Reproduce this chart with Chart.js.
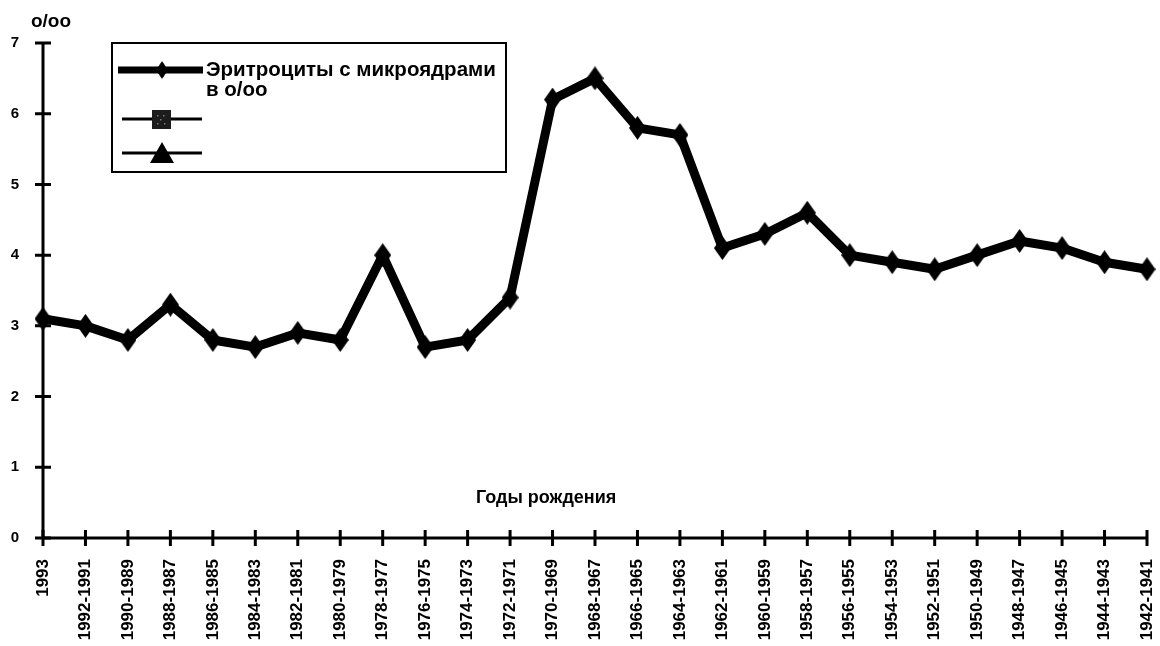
<!DOCTYPE html>
<html>
<head>
<meta charset="utf-8">
<script src="https://cdn.jsdelivr.net/npm/chart.js@4.4.0/dist/chart.umd.min.js"></script>
<style>
  html, body { margin: 0; padding: 0; background: #fff; }
  canvas { display: block; }
</style>
</head>
<body>
<canvas id="myChart" width="1160" height="646"></canvas>
<script>
// birth-year groups and micronucleus counts (per mille)
const years = [
    '1993', '1992-1991', '1990-1989', '1988-1987', '1986-1985', '1984-1983',
    '1982-1981', '1980-1979', '1978-1977', '1976-1975', '1974-1973', '1972-1971',
    '1970-1969', '1968-1967', '1966-1965', '1964-1963', '1962-1961', '1960-1959',
    '1958-1957', '1956-1955', '1954-1953', '1952-1951', '1950-1949', '1948-1947',
    '1946-1945', '1944-1943', '1942-1941'
];
const micronuclei = [
    3.1, 3.0, 2.8, 3.3, 2.8, 2.7, 2.9, 2.8, 4.0, 2.7, 2.8, 3.4,
    6.2, 6.5, 5.8, 5.7, 4.1, 4.3, 4.6, 4.0, 3.9, 3.8, 4.0, 4.2,
    4.1, 3.9, 3.8
];
const seriesLabels = ['Эритроциты с микроядрами в о/оо', '', ''];
const yTicks = [0, 1, 2, 3, 4, 5, 6, 7];
const unitLabel = 'o/oo';
const xTitle = 'Годы рождения';

const FONT = '"Liberation Sans", Arial, sans-serif';

// tall diamond marker used for the main series
const makeDiamond = (w, h) => {
    const c = document.createElement('canvas');
    c.width = w;
    c.height = h;
    const g = c.getContext('2d');
    g.fillStyle = '#000';
    g.beginPath();
    g.moveTo(w / 2, 0);
    g.lineTo(w, h / 2);
    g.lineTo(w / 2, h);
    g.lineTo(0, h / 2);
    g.closePath();
    g.fill();
    return c;
};
const diamond = makeDiamond(17, 24);

// axes with cross-shaped tick marks
const axesPlugin = {
    id: 'crossAxes',
    beforeDatasetsDraw(chart) {
        const { ctx, scales: { x, y } } = chart;
        const x0 = x.left;
        const yTop = y.getPixelForValue(7);
        const yBot = y.getPixelForValue(0);
        ctx.save();
        ctx.strokeStyle = '#000';
        ctx.lineWidth = 3;
        ctx.beginPath();
        ctx.moveTo(x0, yTop);
        ctx.lineTo(x0, yBot);
        ctx.moveTo(x0, yBot);
        ctx.lineTo(x.getPixelForValue(years.length - 1), yBot);
        ctx.stroke();
        ctx.beginPath();
        yTicks.forEach(v => {
            const py = y.getPixelForValue(v);
            ctx.moveTo(x0 - 8, py);
            ctx.lineTo(x0 + 8, py);
        });
        years.forEach((_, i) => {
            const px = x.getPixelForValue(i);
            ctx.moveTo(px, yBot - 8);
            ctx.lineTo(px, yBot + 8);
        });
        ctx.stroke();
        ctx.restore();
    },
    afterDraw(chart) {
        const { ctx, scales: { x } } = chart;
        ctx.save();
        ctx.fillStyle = '#000';
        ctx.font = 'bold 19px ' + FONT;
        ctx.textAlign = 'center';
        ctx.textBaseline = 'alphabetic';
        ctx.fillText(unitLabel, x.left + 8, 27);
        ctx.font = 'bold 18px ' + FONT;
        ctx.textAlign = 'left';
        ctx.fillText(xTitle, 476, 503);
        ctx.restore();
    }
};

// boxed legend in the upper left
const legendBox = {
    id: 'legendBox',
    afterDraw(chart) {
        const ctx = chart.ctx;
        const bx = 112, by = 43, bw = 394, bh = 129;
        ctx.save();
        ctx.fillStyle = '#fff';
        ctx.fillRect(bx, by, bw, bh);
        ctx.strokeStyle = '#000';
        ctx.lineWidth = 2;
        ctx.strokeRect(bx, by, bw, bh);

        // entry 1: thick line with diamond
        ctx.lineWidth = 7;
        ctx.beginPath();
        ctx.moveTo(118, 70);
        ctx.lineTo(203, 70);
        ctx.stroke();
        ctx.drawImage(diamond, 162 - 6, 70 - 9, 12, 18);

        ctx.fillStyle = '#000';
        ctx.font = 'bold 20.5px ' + FONT;
        ctx.textBaseline = 'alphabetic';
        const words = chart.data.datasets[0].label.split(' ');
        const lines = [];
        let cur = '';
        words.forEach(w => {
            const test = cur ? cur + ' ' + w : w;
            if (ctx.measureText(test).width > 296 && cur) {
                lines.push(cur);
                cur = w;
            } else {
                cur = test;
            }
        });
        lines.push(cur);
        lines.forEach((t, i) => ctx.fillText(t, 206, 76 + i * 20));

        // entry 2: thin line with square
        ctx.lineWidth = 3;
        ctx.beginPath();
        ctx.moveTo(122, 119);
        ctx.lineTo(202, 119);
        ctx.moveTo(122, 153);
        ctx.lineTo(202, 153);
        ctx.stroke();
        ctx.fillStyle = '#1c1c1c';
        ctx.fillRect(152, 110, 19, 19);
        ctx.fillStyle = '#777';
        [[157, 115], [163, 115], [160, 119], [157, 123], [164, 123]].forEach(([px, py]) => ctx.fillRect(px, py, 1.5, 1.5));

        // entry 3: thin line with triangle
        ctx.fillStyle = '#000';
        ctx.beginPath();
        ctx.moveTo(162, 142);
        ctx.lineTo(174, 163);
        ctx.lineTo(150, 163);
        ctx.closePath();
        ctx.fill();
        ctx.restore();
    }
};

new Chart(document.getElementById('myChart'), {
    type: 'line',
    data: {
        labels: years,
        datasets: [
            {
                label: seriesLabels[0],
                data: micronuclei,
                borderColor: '#000',
                backgroundColor: '#000',
                borderWidth: 9,
                borderJoinStyle: 'round',
                pointStyle: diamond,
                tension: 0
            },
            { label: seriesLabels[1], data: [], pointStyle: 'rect', borderColor: '#000' },
            { label: seriesLabels[2], data: [], pointStyle: 'triangle', borderColor: '#000' }
        ]
    },
    plugins: [axesPlugin, legendBox],
    options: {
        responsive: false,
        animation: false,
        devicePixelRatio: 1,
        layout: { padding: { top: 43, right: 8, left: 0, bottom: 0 } },
        plugins: {
            legend: { display: false },
            tooltip: { enabled: false }
        },
        scales: {
            x: {
                type: 'category',
                offset: false,
                grid: { display: false, drawTicks: false },
                border: { display: false },
                afterFit: s => {
                    s.height = 108;
                    s.paddingLeft = 0;
                    s.paddingRight = 0;
                },
                ticks: {
                    autoSkip: false,
                    minRotation: 90,
                    maxRotation: 90,
                    padding: 21,
                    color: '#000',
                    font: { family: FONT, size: 17, weight: 'bold' }
                }
            },
            y: {
                min: 0,
                max: 7,
                grid: { display: false, drawTicks: false },
                border: { display: false },
                afterFit: s => { s.width = 43; },
                ticks: {
                    stepSize: 1,
                    padding: 24,
                    color: '#000',
                    font: { family: FONT, size: 15, weight: 'bold' }
                }
            }
        }
    }
});
</script>
</body>
</html>
